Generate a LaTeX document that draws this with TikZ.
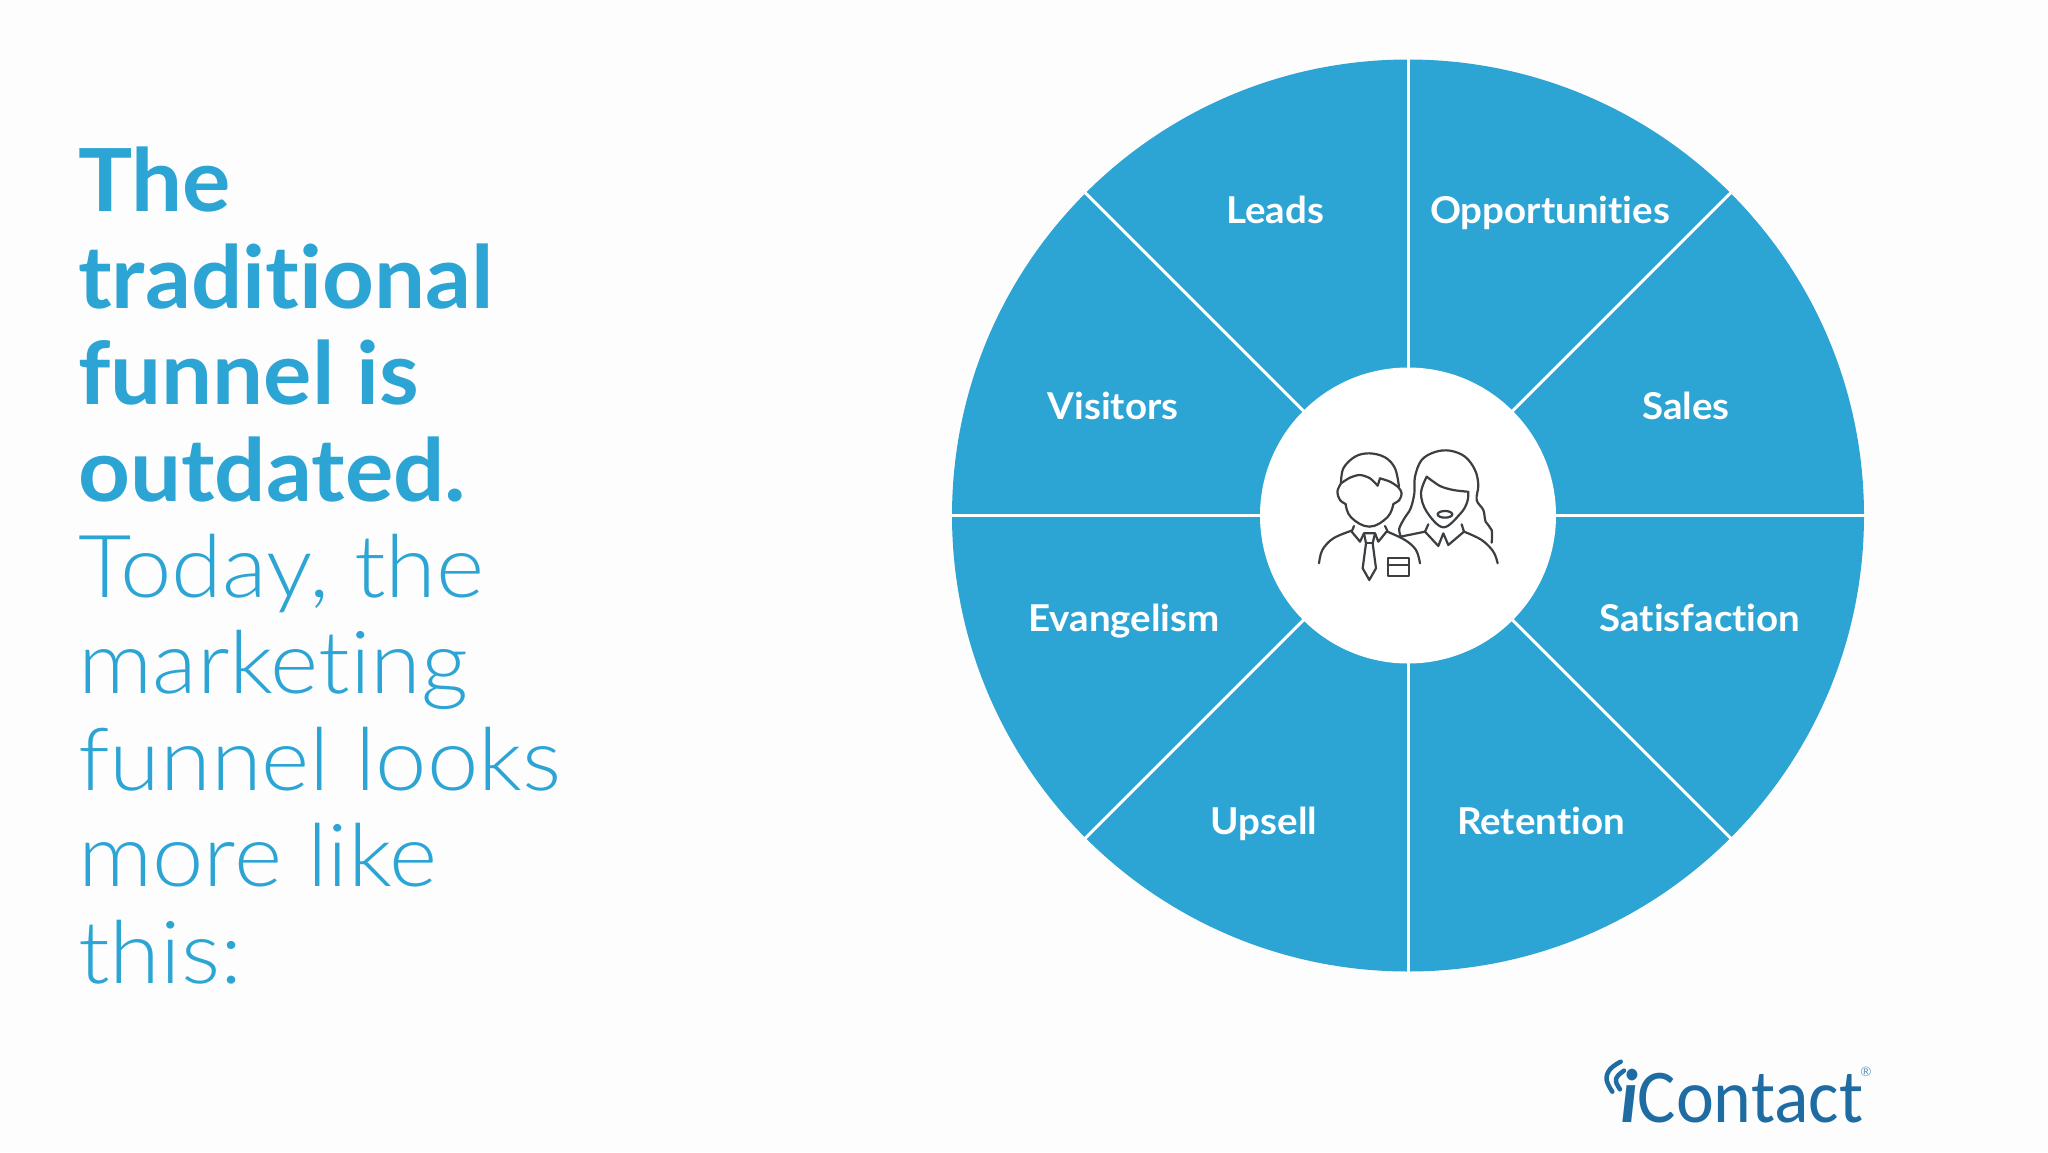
\documentclass[tikz,border=0pt]{standalone}
\usepackage{fontspec}
\setmainfont{Lato}[RawFeature=-liga,FakeStretch=1.04]
\newfontfamily\lightf{Lato Light}[RawFeature=-liga,FakeStretch=1.06]
\newfontfamily\logof{Carlito}[FakeStretch=0.945]
\definecolor{wheel}{HTML}{2CA5D5}
\definecolor{logoblue}{HTML}{1F6CA3}
\definecolor{inkc}{HTML}{3C3F42}
\definecolor{paper}{HTML}{FEFDFE}
\tikzset{
  seclabel/.style={text=white,font=\bfseries\fontsize{37}{40}\selectfont,anchor=base,inner sep=0pt},
  spoke/.style={draw=white,line width=3pt},
  ink/.style={draw=inkc,line width=2.2pt,line cap=round,line join=round},
  wifi/.style={draw=logoblue,line width=4.5pt,line cap=round}
}
\begin{document}
\begin{tikzpicture}[x=1pt,y=-1pt]
\useasboundingbox (0,0) rectangle (2048,1152);
\fill[paper] (0,0) rectangle (2048,1152);
% wheel
\coordinate (c) at (1408,515.5);
\fill[wheel] (c) circle[radius=456];
\foreach \a in {0,45,...,315}{
  \draw[spoke] (c) -- ++(\a:458);
}
\fill[white] (c) circle[radius=148];
\node[seclabel] (leads) at (1275,223) {Leads};
\node[seclabel] (opp) at (1550,223) {Opportunities};
\node[seclabel] (vis) at (1113,419) {Visitors};
\node[seclabel] (sales) at (1686,419) {Sales};
\node[seclabel] (evan) at (1124,631) {Evangelism};
\node[seclabel] (sat) at (1700,631) {Satisfaction};
\node[seclabel] (up) at (1264,834) {Upsell};
\node[seclabel] (ret) at (1541,834) {Retention};
% heading
\node[anchor=north west,inner sep=0pt,align=left,text=wheel,
  font=\fontsize{87}{96.4}\selectfont] (head) at (78,147)
  {\textbf{The}\\\textbf{traditional}\\\textbf{funnel is}\\\textbf{outdated.}\\
   {\lightf Today, the}\\{\lightf marketing}\\{\lightf funnel looks}\\{\lightf more like}\\{\lightf this:}};
% people icon, traced in a 3x grid
\begin{scope}[shift={(1280,430)},x=0.3333pt,y=-0.3333pt]
  % man
  \draw[ink] plot[smooth,tension=0.6] coordinates {(183,160) (190,115) (225,80) (268,70) (315,82) (345,115) (357,170)};
  \draw[ink] plot[smooth,tension=0.5] coordinates {(183,160) (210,143) (240,135) (270,145) (293,167)};
  \draw[ink] (293,167) -- (300,145);
  \draw[ink] plot[smooth,tension=0.5] coordinates {(300,145) (330,155) (355,172) (365,190) (358,210) (340,222)};
  \draw[ink] plot[smooth,tension=0.6] coordinates {(183,160) (172,185) (180,210) (197,222)};
  \draw[ink] plot[smooth,tension=0.7] coordinates {(197,222) (213,262) (268,290) (322,262) (340,222)};
  \draw[ink] (222,288) -- (215,305) -- (240,335) -- (252,310) -- (285,310) -- (295,335) -- (322,302) -- (315,288);
  \draw[ink] (252,310) -- (258,340) -- (248,415) -- (268,450) -- (288,415) -- (278,340) -- (285,310);
  \draw[ink] (258,340) -- (278,340);
  \draw[ink] plot[smooth,tension=0.6] coordinates {(215,302) (160,325) (127,360) (117,400)};
  \draw[ink] plot[smooth,tension=0.6] coordinates {(322,305) (375,330) (408,360) (420,400)};
  \draw[ink] (323,385) rectangle (387,437);
  \draw[ink] (323,406) -- (387,406);
  % woman
  \draw[ink] plot[smooth,tension=0.6] coordinates {(362,318) (358,295) (375,262) (392,235) (403,190) (405,140) (425,90) (465,66) (510,62) (555,80) (585,120) (595,165) (590,210) (610,240) (617,275) (635,300) (635,338)};
  \draw[ink] plot[smooth,tension=0.5] coordinates {(440,140) (480,168) (520,180) (562,185)};
  \draw[ink] plot[smooth,tension=0.6] coordinates {(440,140) (423,190) (440,245) (490,292) (542,250) (562,215) (565,185)};
  \draw[ink] (495,253) ellipse[x radius=22,y radius=10];
  \draw[ink] (445,283) -- (435,305) -- (475,348) -- (490,310) -- (505,345) -- (552,305) -- (545,283);
  \draw[ink] (362,320) -- (435,305);
  \draw[ink] plot[smooth,tension=0.6] coordinates {(552,305) (605,330) (640,365) (653,400)};
\end{scope}
% logo
\node[anchor=base west,inner sep=0pt,text=logoblue,font=\logof\fontsize{76}{80}\selectfont] (logo) at (1620,1122)
  {\textbf{\textit{i}}Contact};
\node[inner sep=0pt,text=logoblue!70!white,font=\fontsize{13}{13}\selectfont] (reg) at (1866,1072) {®};
\begin{scope}[shift={(1580,1040)},x=0.3333pt,y=-0.3333pt]
  \draw[wifi] plot[smooth,tension=0.7] coordinates {(122,65) (90,88) (80,120) (97,155)};
  \draw[wifi] plot[smooth,tension=0.7] coordinates {(132,92) (113,108) (108,125) (120,148)};
\end{scope}
\end{tikzpicture}
\end{document}
